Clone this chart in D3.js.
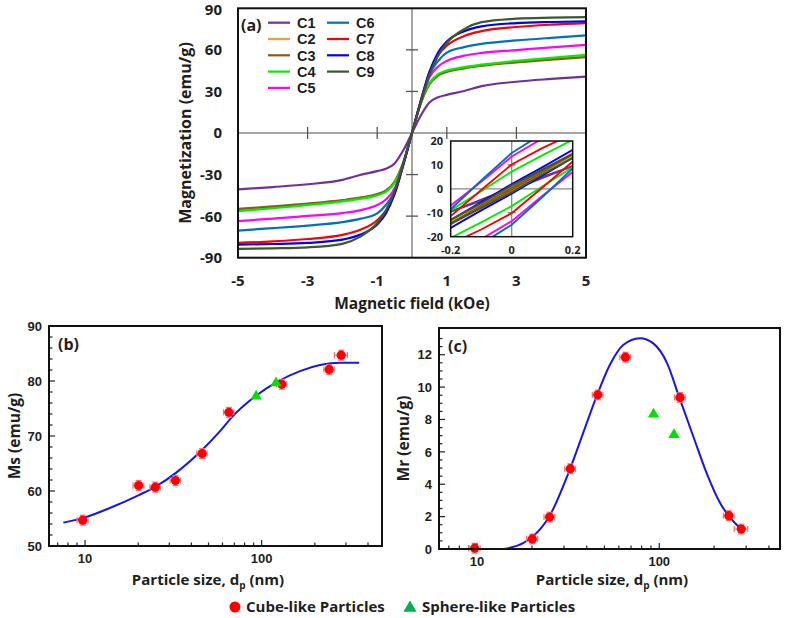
<!DOCTYPE html>
<html><head><meta charset="utf-8">
<script src="https://cdn.jsdelivr.net/npm/d3@7/dist/d3.min.js"></script>
<style>body{margin:0;background:#fff}svg{display:block}</style>
</head><body>
<svg id="chart" width="787" height="618"></svg>
<script>
// ---------- DATA ----------
const seriesNames = ["C1","C2","C3","C4","C5","C6","C7","C8","C9"];
const seriesColors = ["#7030a0","#f79646","#8c5a14","#00ee00","#ff00ff","#0070c0","#ff0000","#0000ff","#3b5a26"];

// Panel (a): magnetic field (kOe) and magnetization (emu/g)
const fieldKOe = [-5,-4,-3,-2,-1.5,-1,-0.75,-0.5,-0.25,0,0.25,0.5,0.75,1,1.5,2,3,4,5];
const magC1 = [-40.7,-39,-37,-33.8,-30.3,-27.5,-25.8,-22,-12.5,0,12.5,22,25.8,27.5,30.3,33.8,37,39,40.7];
const magC2 = [-55.2,-53.3,-51.3,-48.8,-47,-44.5,-42,-35.5,-21.5,0,21.5,35.5,42,44.5,47,48.8,51.3,53.3,55.2];
const magC3 = [-54.8,-53,-51,-48.5,-46.7,-44,-41.5,-35,-21,0,21,35,41.5,44,46.7,48.5,51,53,54.8];
const magC4 = [-56.4,-54.3,-52,-49.3,-47.5,-45,-42.5,-36,-22,0,22,36,42.5,45,47.5,49.3,52,54.3,56.4];
const magC5 = [-63.6,-61.8,-59.8,-57.8,-55.8,-52,-48,-40,-22,0,22,40,48,52,55.8,57.8,59.8,61.8,63.6];
const magC6 = [-70.4,-68.7,-66.8,-64.3,-62,-58,-52,-42,-22,0,22,42,52,58,62,64.3,66.8,68.7,70.4];
const magC7 = [-79.3,-78.2,-76.5,-73.5,-70,-63,-56,-44,-23,0,23,44,56,63,70,73.5,76.5,78.2,79.3];
const magC8 = [-80.5,-80.1,-79.3,-77,-73.5,-66,-58,-44,-23,0,23,44,58,66,73.5,77,79.3,80.1,80.5];
const magC9 = [-83.6,-83.2,-82.5,-80,-75,-65,-56,-42,-22,0,22,42,56,65,75,80,82.5,83.2,83.6];
const magSeries = [magC1,magC2,magC3,magC4,magC5,magC6,magC7,magC8,magC9];

// Inset: low-field loops (upper and lower branches)
const insetField = [-0.2,-0.1,0,0.1,0.2];
const insetUpC1 = [-9.5,-4.5,0.5,5,9.5],   insetLowC1 = [-9.5,-5,-0.5,4.5,9.5];
const insetUpC2 = [-14,-6.5,1,8,15],       insetLowC2 = [-15,-8,-1,6.5,14];
const insetUpC3 = [-14.5,-7,0.5,7.5,14.5], insetLowC3 = [-14.5,-7.5,-0.5,7,14.5];
const insetUpC4 = [-9,-1,7.2,14,20.5],     insetLowC4 = [-20.5,-14,-7.2,1,9];
const insetUpC5 = [-7,3,13.5,21,28],       insetLowC5 = [-28,-21,-13.5,-3,7];
const insetUpC6 = [-8.5,3.5,15,23,30],     insetLowC6 = [-30,-23,-15,-3.5,8.5];
const insetUpC7 = [-11.4,-0.5,10.2,17,23], insetLowC7 = [-23,-17,-10.2,0.5,11.4];
const insetUpC8 = [-13,-5.5,2,9,16.3],     insetLowC8 = [-16.3,-9,-2,5.5,13];
const insetUpC9 = [-13,-6,1.5,8,14.5],     insetLowC9 = [-14.5,-8,-1.5,6,13];
const insetUp = [insetUpC1,insetUpC2,insetUpC3,insetUpC4,insetUpC5,insetUpC6,insetUpC7,insetUpC8,insetUpC9];
const insetLow = [insetLowC1,insetLowC2,insetLowC3,insetLowC4,insetLowC5,insetLowC6,insetLowC7,insetLowC8,insetLowC9];

// Panels (b), (c): particle size (nm)
const cubeSize = [9.7,20.1,25,32.5,46,65.2,130,241,282];
const cubeSizeErr = [0.7,1.4,1.7,2.2,3.1,4.4,8.8,16,24];
const cubeMs = [54.7,61.0,60.7,61.9,66.8,74.3,79.4,82.1,84.7];
const cubeMsErr = [0.9,0.9,0.9,0.9,0.9,0.9,0.9,0.9,0.9];
const cubeMr = [0.05,0.62,1.97,4.96,9.52,11.85,9.36,2.06,1.23];
const cubeMrErr = [0.3,0.3,0.3,0.3,0.3,0.3,0.3,0.3,0.3];
const sphereSize = [93,120.5];
const sphereMs = [77.4,79.8];
const sphereMr = [8.39,7.12];

const fitSizeB = [7.53,10,13.8,20.3,25.1,32.7,46.1,58.1,69.1,93.6,121.6,164.8,213.8,277.5,356.5];
const fitMsB = [54.25,55.2,56.9,59.3,60.8,63.3,67.5,70.9,73.7,77.4,79.8,81.8,82.9,83.3,83.3];
const fitSizeC = [14.06,17.9,20.3,24.8,32.4,38.2,45.6,53.6,63.4,78.3,92.7,110.2,128.8,153.8,182,215.8,239.9,277.3];
const fitMrC = [0,0.37,0.78,1.97,4.96,7.16,9.52,11.38,12.6,13.02,12.7,11.5,9.36,6.95,4.69,2.84,2.06,1.30];

const ticksA_y = [-90,-60,-30,0,30,60,90];
const ticksA_x = [-5,-3,-1,1,3,5];
const ticksInset_y = [-20,-10,0,10,20];
const ticksInset_x = [-0.2,0,0.2];
const ticksB_y = [50,60,70,80,90];
const ticksC_y = [0,2,4,6,8,10,12];
const ticksLogMajor = [10,100];
const ticksLogMinor = [7,8,9,20,30,40,50,60,70,80,90,200,300,400];

// ---------- DRAW ----------
const svg = d3.select("#chart");
const TXT = "#1e1e1e";
const titleFont = "'Open Sans', sans-serif";
const tickFontBC = "'Liberation Sans', Arial, sans-serif";
const defs = svg.append("defs");

// ===== Panel (a) =====
const xA = d3.scaleLinear().domain([-5,5]).range([238,586]);
const yA = d3.scaleLinear().domain([-90,90]).range([257.7,8.3]);
defs.append("clipPath").attr("id","clipA").append("rect")
  .attr("x",xA(-5)).attr("y",yA(90)).attr("width",xA(5)-xA(-5)).attr("height",yA(-90)-yA(90));
const gA = svg.append("g");
gA.append("line").attr("x1",xA(0)).attr("x2",xA(0)).attr("y1",yA(90)).attr("y2",yA(-90))
  .attr("stroke","#8a8a8a").attr("stroke-width",1.5);
gA.append("line").attr("x1",xA(-5)).attr("x2",xA(5)).attr("y1",yA(0)).attr("y2",yA(0))
  .attr("stroke","#8a8a8a").attr("stroke-width",1.5);
gA.selectAll(".cty").data(ticksA_y.filter(v=>Math.abs(v)<90 && v!==0)).join("line")
  .attr("x1",xA(0)-6).attr("x2",xA(0)+6).attr("y1",d=>yA(d)).attr("y2",d=>yA(d))
  .attr("stroke","#555").attr("stroke-width",1.3);
gA.selectAll(".ctx").data(ticksA_x.filter(v=>Math.abs(v)<5)).join("line")
  .attr("y1",yA(0)-6).attr("y2",yA(0)+6).attr("x1",d=>xA(d)).attr("x2",d=>xA(d))
  .attr("stroke","#555").attr("stroke-width",1.3);

const lineA = d3.line().x(d=>xA(d[0])).y(d=>yA(d[1])).curve(d3.curveMonotoneX);
const gCurves = gA.append("g").attr("clip-path","url(#clipA)");
magSeries.forEach((vals,i)=>{
  gCurves.append("path").datum(fieldKOe.map((h,j)=>[h,vals[j]]))
    .attr("d",lineA).attr("fill","none").attr("stroke",seriesColors[i]).attr("stroke-width",2.2);
});
gA.append("rect").attr("x",xA(-5)).attr("y",yA(90)).attr("width",xA(5)-xA(-5)).attr("height",yA(-90)-yA(90))
  .attr("fill","none").attr("stroke","#111").attr("stroke-width",2);

gA.selectAll(".tya").data(ticksA_y).join("text")
  .attr("x",222).attr("y",d=>yA(d)+(d===90?1:0)).attr("dy","0.36em").attr("text-anchor","end")
  .attr("font-family",titleFont).attr("font-weight","bold").attr("font-size",15).attr("fill",TXT)
  .text(d=>d);
gA.selectAll(".txa").data(ticksA_x).join("text")
  .attr("x",d=>xA(d)).attr("y",285.5).attr("text-anchor","middle")
  .attr("font-family",titleFont).attr("font-weight","bold").attr("font-size",15).attr("fill",TXT)
  .text(d=>d);
gA.append("text").attr("transform","translate(191,133) rotate(-90)").attr("text-anchor","middle")
  .attr("font-family",titleFont).attr("font-weight","bold").attr("font-size",16).attr("fill",TXT)
  .text("Magnetization (emu/g)");
gA.append("text").attr("x",412).attr("y",308.5).attr("text-anchor","middle")
  .attr("font-family",titleFont).attr("font-weight","bold").attr("font-size",15.5).attr("fill",TXT)
  .text("Magnetic field (kOe)");
gA.append("text").attr("x",241).attr("y",31)
  .attr("font-family",titleFont).attr("font-weight","bold").attr("font-size",16).attr("fill",TXT).text("(a)");

const legA = gA.append("g");
seriesNames.forEach((nm,i)=>{
  const col = i<5 ? 0 : 1, row = i<5 ? i : i-5;
  const lx = col===0 ? 268 : 327, ly = 22.7 + row*16.3;
  legA.append("line").attr("x1",lx).attr("x2",lx+22).attr("y1",ly).attr("y2",ly)
    .attr("stroke",seriesColors[i]).attr("stroke-width",2.2);
  legA.append("text").attr("x",lx+29).attr("y",ly).attr("dy","0.36em")
    .attr("font-family",tickFontBC).attr("font-weight","bold").attr("font-size",14.5).attr("fill",TXT).text(nm);
});

// ===== Inset =====
const xI = d3.scaleLinear().domain([-0.2,0.2]).range([450.7,572.7]);
const yI = d3.scaleLinear().domain([-20,20]).range([236.7,141]);
defs.append("clipPath").attr("id","clipI").append("rect")
  .attr("x",xI(-0.2)).attr("y",yI(20)).attr("width",xI(0.2)-xI(-0.2)).attr("height",yI(-20)-yI(20));
const gI = svg.append("g");
gI.append("rect").attr("x",xI(-0.2)).attr("y",yI(20)).attr("width",xI(0.2)-xI(-0.2)).attr("height",yI(-20)-yI(20))
  .attr("fill","#fff");
gI.append("line").attr("x1",xI(0)).attr("x2",xI(0)).attr("y1",yI(20)).attr("y2",yI(-20)).attr("stroke","#8a8a8a").attr("stroke-width",1.3);
gI.append("line").attr("x1",xI(-0.2)).attr("x2",xI(0.2)).attr("y1",yI(0)).attr("y2",yI(0)).attr("stroke","#8a8a8a").attr("stroke-width",1.3);
gI.selectAll(".iyt").data([-10,10]).join("line")
  .attr("x1",xI(0)-4).attr("x2",xI(0)+4).attr("y1",d=>yI(d)).attr("y2",d=>yI(d)).attr("stroke","#666").attr("stroke-width",1.2);
const lineI = d3.line().x(d=>xI(d[0])).y(d=>yI(d[1]));
const gIL = gI.append("g").attr("clip-path","url(#clipI)");
seriesNames.forEach((nm,i)=>{
  [insetUp[i], insetLow[i]].forEach(br=>{
    gIL.append("path").datum(insetField.map((h,j)=>[h,br[j]]))
      .attr("d",lineI).attr("fill","none").attr("stroke",seriesColors[i]).attr("stroke-width",1.9);
  });
});
gI.append("rect").attr("x",xI(-0.2)).attr("y",yI(20)).attr("width",xI(0.2)-xI(-0.2)).attr("height",yI(-20)-yI(20))
  .attr("fill","none").attr("stroke","#111").attr("stroke-width",1.5);
gI.selectAll(".iyl").data(ticksInset_y).join("text")
  .attr("x",443).attr("y",d=>yI(d)).attr("dy","0.36em").attr("text-anchor","end")
  .attr("font-family",titleFont).attr("font-weight","bold").attr("font-size",11).attr("fill",TXT).text(d=>d);
gI.selectAll(".ixl").data(ticksInset_x).join("text")
  .attr("x",d=>xI(d)).attr("y",254).attr("text-anchor","middle")
  .attr("font-family",titleFont).attr("font-weight","bold").attr("font-size",11).attr("fill",TXT).text(d=>d);

// ===== Panels (b) and (c) =====
function logPanel(cfg){
  const g = svg.append("g");
  const {x,y} = cfg;
  const [x0,x1] = x.range(), [y0,y1] = y.range();
  g.selectAll(".mj").data(ticksLogMajor).join("line")
    .attr("x1",d=>x(d)).attr("x2",d=>x(d)).attr("y1",y0).attr("y2",y0-6).attr("stroke","#222").attr("stroke-width",1.2);
  g.selectAll(".mn").data(ticksLogMinor).join("line")
    .attr("x1",d=>x(d)).attr("x2",d=>x(d)).attr("y1",y0).attr("y2",y0-3.5).attr("stroke","#222").attr("stroke-width",1.2);
  g.selectAll(".ymj").data(cfg.yTicks).join("line")
    .attr("x1",x0).attr("x2",x0+6).attr("y1",d=>y(d)).attr("y2",d=>y(d)).attr("stroke","#222").attr("stroke-width",1.2);
  g.selectAll(".ymn").data(cfg.yMinor).join("line")
    .attr("x1",x0).attr("x2",x0+3.5).attr("y1",d=>y(d)).attr("y2",d=>y(d)).attr("stroke","#222").attr("stroke-width",1.2);
  g.append("path").datum(cfg.fitX.map((v,j)=>[v,cfg.fitY[j]]))
    .attr("d",d3.line().x(d=>x(d[0])).y(d=>y(d[1])).curve(d3.curveMonotoneX))
    .attr("fill","none").attr("stroke","#1515ee").attr("stroke-width",2);
  const eb = g.append("g").attr("stroke","#ff6a6a").attr("stroke-width",1.2);
  cubeSize.forEach((s,j)=>{
    const cx = x(s), cy = y(cfg.cubeY[j]);
    const xl = x(s - cubeSizeErr[j]), xr = x(s + cubeSizeErr[j]);
    const yt = y(cfg.cubeY[j] + cfg.cubeErr[j]), yb = y(cfg.cubeY[j] - cfg.cubeErr[j]);
    eb.append("line").attr("x1",xl).attr("x2",xr).attr("y1",cy).attr("y2",cy);
    eb.append("line").attr("x1",xl).attr("x2",xl).attr("y1",cy-3).attr("y2",cy+3);
    eb.append("line").attr("x1",xr).attr("x2",xr).attr("y1",cy-3).attr("y2",cy+3);
    eb.append("line").attr("x1",cx).attr("x2",cx).attr("y1",yt).attr("y2",yb);
    eb.append("line").attr("x1",cx-3).attr("x2",cx+3).attr("y1",yt).attr("y2",yt);
    eb.append("line").attr("x1",cx-3).attr("x2",cx+3).attr("y1",yb).attr("y2",yb);
  });
  g.selectAll(".cube").data(cubeSize).join("circle")
    .attr("cx",d=>x(d)).attr("cy",(d,j)=>y(cfg.cubeY[j])).attr("r",4.6).attr("fill","#ff0000");
  g.selectAll(".sph").data(sphereSize).join("path")
    .attr("d",d3.symbol(d3.symbolTriangle,55))
    .attr("transform",(d,j)=>`translate(${x(d)},${y(cfg.sphY[j])+1})`).attr("fill","#00e000");
  g.append("rect").attr("x",x0).attr("y",y1).attr("width",x1-x0).attr("height",y0-y1)
    .attr("fill","none").attr("stroke","#111").attr("stroke-width",2);
  g.selectAll(".yl").data(cfg.yTicks).join("text")
    .attr("x",x0-7).attr("y",d=>y(d)).attr("dy","0.36em").attr("text-anchor","end")
    .attr("font-family",tickFontBC).attr("font-weight","bold").attr("font-size",13).attr("fill",TXT).text(d=>d);
  g.selectAll(".xl").data(ticksLogMajor).join("text")
    .attr("x",d=>x(d)).attr("y",y0+16.5).attr("text-anchor","middle")
    .attr("font-family",tickFontBC).attr("font-weight","bold").attr("font-size",13).attr("fill",TXT).text(d=>d);
  g.append("text").attr("transform",`translate(${cfg.yTitleX},${(y0+y1)/2}) rotate(-90)`).attr("text-anchor","middle")
    .attr("font-family",titleFont).attr("font-weight","bold").attr("font-size",15.5).attr("fill",TXT).text(cfg.yTitle);
  const xt = g.append("text").attr("x",cfg.xTitleX).attr("y",585).attr("text-anchor","middle")
    .attr("font-family",titleFont).attr("font-weight","bold").attr("font-size",15).attr("fill",TXT);
  xt.append("tspan").text("Particle size, d");
  xt.append("tspan").attr("font-size",10).attr("dy",4).text("p");
  xt.append("tspan").attr("dy",-4).text(" (nm)");
  g.append("text").attr("x",x0+9).attr("y",y1+24)
    .attr("font-family",titleFont).attr("font-weight","bold").attr("font-size",16).attr("fill",TXT).text(cfg.tag);
}

logPanel({
  x: d3.scaleLog().domain([6.25,480]).range([49,382]),
  y: d3.scaleLinear().domain([50,90]).range([546,326]),
  yTicks: ticksB_y, yMinor: d3.range(52,90,2).filter(v=>v%10!==0),
  fitX: fitSizeB, fitY: fitMsB, cubeY: cubeMs, cubeErr: cubeMsErr, sphY: sphereMs,
  yTitle: "Ms (emu/g)", yTitleX: 20, xTitleX: 208, tag: "(b)"
});
logPanel({
  x: d3.scaleLog().domain([6.18,460]).range([439,780]),
  y: d3.scaleLinear().domain([0,13.65]).range([549,328]),
  yTicks: ticksC_y, yMinor: d3.range(0.5,13.5,0.5).filter(v=>v%2!==0),
  fitX: fitSizeC, fitY: fitMrC, cubeY: cubeMr, cubeErr: cubeMrErr, sphY: sphereMr,
  yTitle: "Mr (emu/g)", yTitleX: 409, xTitleX: 612, tag: "(c)"
});

const legB = svg.append("g");
legB.append("circle").attr("cx",235).attr("cy",607).attr("r",5.5).attr("fill","#ff0000");
legB.append("text").attr("x",246).attr("y",607).attr("dy","0.36em")
  .attr("font-family",titleFont).attr("font-weight","bold").attr("font-size",15).attr("fill",TXT).text("Cube-like Particles");
legB.append("path").attr("d",d3.symbol(d3.symbolTriangle,75)).attr("transform","translate(410,608)").attr("fill","#00b050");
legB.append("text").attr("x",422).attr("y",607).attr("dy","0.36em")
  .attr("font-family",titleFont).attr("font-weight","bold").attr("font-size",15).attr("fill",TXT).text("Sphere-like Particles");
</script>
</body></html>
